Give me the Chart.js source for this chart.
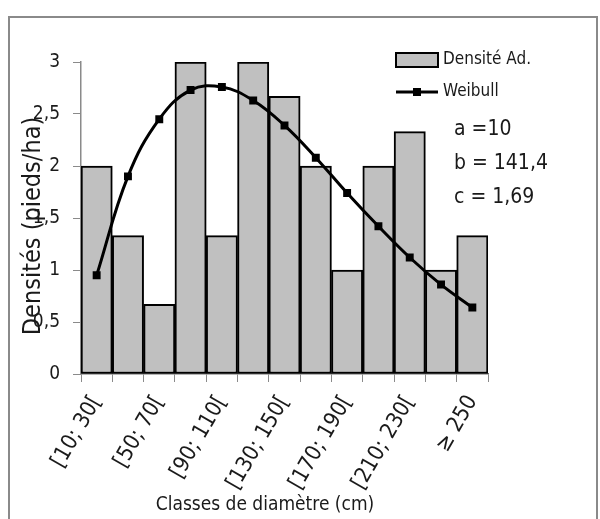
<!DOCTYPE html>
<html>
<head>
<meta charset="utf-8">
<script src="https://cdn.jsdelivr.net/npm/chart.js@4.4.1/dist/chart.umd.min.js"></script>
<style>
  html, body { margin: 0; padding: 0; background: #fff; }
  #frame { position: absolute; left: 8px; top: 16px; width: 590px; height: 520px; border: 2px solid #8a8a8a; box-sizing: border-box; }
  #wrap { position: absolute; left: 0; top: 0; width: 600px; height: 519px; }
</style>
</head>
<body>
<div id="frame"></div>
<div id="wrap"><canvas id="chart" width="600" height="519"></canvas></div>
<script>
// DATA
const classes = ['[10; 30[', '[30; 50[', '[50; 70[', '[70; 90[', '[90; 110[', '[110; 130[', '[130; 150[',
                 '[150; 170[', '[170; 190[', '[190; 210[', '[210; 230[', '[230; 250[', '≥ 250'];
const densiteAd = [2, 1.33, 0.67, 3, 1.33, 3, 2.67, 2, 1, 2, 2.33, 1, 1.33];
const weibull = [0.95, 1.9, 2.45, 2.73, 2.76, 2.63, 2.39, 2.08, 1.74, 1.42, 1.12, 0.86, 0.64];
const yTicks = [0, 0.5, 1, 1.5, 2, 2.5, 3];
const params = ['a =10', 'b = 141,4', 'c = 1,69'];

const FONT = "'DejaVu Sans Condensed', 'Liberation Sans Narrow', 'Noto Sans', sans-serif";
const INK = '#1a1a1a';

// texts drawn on top: axis titles, legend, weibull parameters
const overlay = {
    id: 'overlay',
    afterDraw(chart) {
        const ctx = chart.ctx;
        ctx.save();
        ctx.fillStyle = INK;
        ctx.textBaseline = 'middle';

        // y title (overlaps the tick labels, as in the original)
        ctx.save();
        ctx.translate(33, 226);
        ctx.rotate(-Math.PI / 2);
        ctx.textAlign = 'center';
        ctx.font = '25px ' + FONT;
        ctx.fillText('Densités (pieds/ha)', 0, 0);
        ctx.restore();

        // x title
        ctx.textAlign = 'center';
        ctx.font = '19px ' + FONT;
        ctx.fillText('Classes de diamètre (cm)', 265, 505);

        // legend
        ctx.textAlign = 'left';
        ctx.font = '17px ' + FONT;
        ctx.fillStyle = '#c0c0c0';
        ctx.fillRect(396, 53, 42, 14);
        ctx.strokeStyle = '#000';
        ctx.lineWidth = 2;
        ctx.strokeRect(396, 53, 42, 14);
        ctx.fillStyle = INK;
        ctx.fillText('Densité Ad.', 443, 60);
        ctx.beginPath();
        ctx.moveTo(396, 92);
        ctx.lineTo(438, 92);
        ctx.lineWidth = 3;
        ctx.stroke();
        ctx.fillStyle = '#000';
        ctx.fillRect(413, 88, 8, 8);
        ctx.fillStyle = INK;
        ctx.fillText('Weibull', 443, 92);

        // parameters
        ctx.font = '21px ' + FONT;
        params.forEach((t, i) => ctx.fillText(t, 454, 130 + i * 34));
        ctx.restore();
    }
};

new Chart(document.getElementById('chart'), {
    type: 'bar',
    data: {
        labels: classes,
        datasets: [{
            type: 'line',
            label: 'Weibull',
            data: weibull,
            borderColor: '#000',
            borderWidth: 3,
            backgroundColor: '#000',
            pointStyle: 'rect',
            pointRadius: 5.6,
            pointBorderWidth: 0,
            tension: 0.4,
            order: 0
        }, {
            label: 'Densité Ad.',
            data: densiteAd,
            backgroundColor: '#c0c0c0',
            borderColor: '#000',
            borderWidth: 2,
            borderSkipped: false,
            barPercentage: 1,
            categoryPercentage: 1,
            order: 1
        }]
    },
    options: {
        responsive: false,
        animation: false,
        layout: { padding: { left: 0, right: 112, top: 62, bottom: 0 } },
        plugins: {
            legend: { display: false },
            tooltip: { enabled: false }
        },
        scales: {
            x: {
                offset: true,
                afterFit: (s) => { s.height = 145; },
                grid: { offset: true, drawOnChartArea: false, drawTicks: true, tickLength: 8, color: '#8a8a8a' },
                border: { color: '#6a6a6a', width: 1.5 },
                ticks: {
                    autoSkip: false,
                    minRotation: 60,
                    maxRotation: 60,
                    padding: 9,
                    color: INK,
                    font: { family: FONT, size: 22 },
                    callback: (v, i) => (i % 2 === 0 ? classes[i] : '')
                }
            },
            y: {
                min: 0,
                max: 3,
                afterFit: (s) => { s.width = 81; },
                afterBuildTicks: (s) => { s.ticks = yTicks.map(v => ({ value: v })); },
                grid: { drawOnChartArea: false, drawTicks: true, tickLength: 8, color: '#8a8a8a' },
                border: { color: '#8a8a8a', width: 1.5 },
                ticks: {
                    padding: 13,
                    color: INK,
                    font: { family: FONT, size: 19 },
                    callback: (v) => String(v).replace('.', ',')
                }
            }
        }
    },
    plugins: [overlay]
});
</script>
</body>
</html>
